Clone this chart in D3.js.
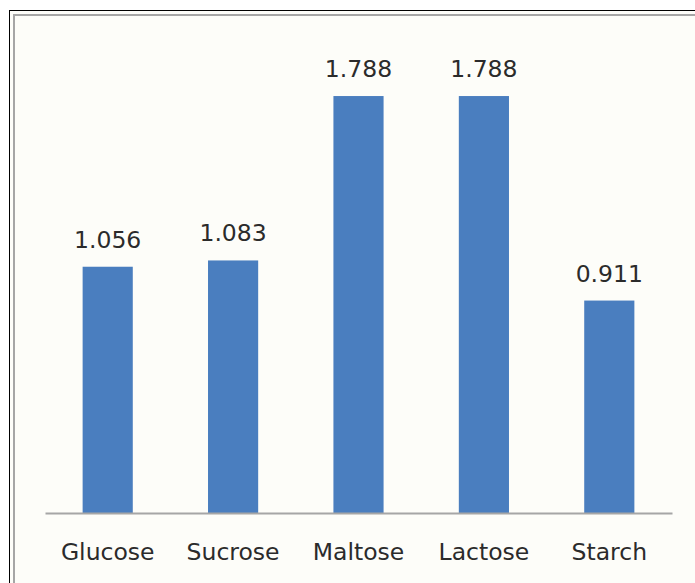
<!DOCTYPE html>
<html>
<head>
<meta charset="utf-8">
<script src="https://cdn.jsdelivr.net/npm/d3@7"></script>
<style>
  html, body { margin: 0; padding: 0; background: #fff; }
  svg { display: block; }
</style>
</head>
<body>
<svg id="chart" width="695" height="583"></svg>
<script>
// sugar values
const categories = ["Glucose", "Sucrose", "Maltose", "Lactose", "Starch"];
const values = [1.056, 1.083, 1.788, 1.788, 0.911];
const valueLabels = ["1.056", "1.083", "1.788", "1.788", "0.911"];

const W = 695, H = 583;
const svg = d3.select("#chart");

// frame: black outer line, grey inner line, off-white fill
svg.append("rect").attr("x", 9).attr("y", 10).attr("width", W).attr("height", H)
  .attr("fill", "#fdfdf9");
svg.append("line").attr("x1", 9.5).attr("x2", 9.5).attr("y1", 10).attr("y2", H).attr("stroke", "#000");
svg.append("line").attr("x1", 9).attr("x2", W).attr("y1", 10.5).attr("y2", 10.5).attr("stroke", "#000");
svg.append("line").attr("x1", 14).attr("x2", 14).attr("y1", 14).attr("y2", H).attr("stroke", "#a6a6a6").attr("stroke-width", 2);
svg.append("line").attr("x1", 13).attr("x2", W).attr("y1", 15).attr("y2", 15).attr("stroke", "#a6a6a6").attr("stroke-width", 2);

const x = d3.scaleBand().domain(categories).range([45, 672]).paddingInner(0.6).paddingOuter(0.3);
const y = d3.scaleLinear().domain([0, 2]).range([513, 46.6]);

const font = "'DejaVu Sans', sans-serif";

svg.append("g").selectAll("rect").data(values).join("rect")
  .attr("x", (d, i) => x(categories[i]))
  .attr("y", (d) => y(d))
  .attr("width", x.bandwidth())
  .attr("height", (d) => y(0) - y(d))
  .attr("fill", "#4a7ebf");

svg.append("g").selectAll("text").data(values).join("text")
  .attr("x", (d, i) => x(categories[i]) + x.bandwidth() / 2)
  .attr("y", (d) => y(d) - 19)
  .attr("text-anchor", "middle")
  .attr("font-family", font).attr("font-size", 23.5)
  .attr("fill", "#2b2b2b")
  .text((d, i) => valueLabels[i]);

const axis = svg.append("g").attr("transform", `translate(0,${y(0)})`)
  .call(d3.axisBottom(x).tickSize(0).tickPadding(0));
axis.select(".domain").attr("stroke", "#a6a6a6").attr("stroke-width", 2);
axis.selectAll(".tick text")
  .attr("dy", 0).attr("y", 47)
  .attr("font-family", font).attr("font-size", 23.5)
  .attr("fill", "#2b2b2b");
</script>
</body>
</html>
